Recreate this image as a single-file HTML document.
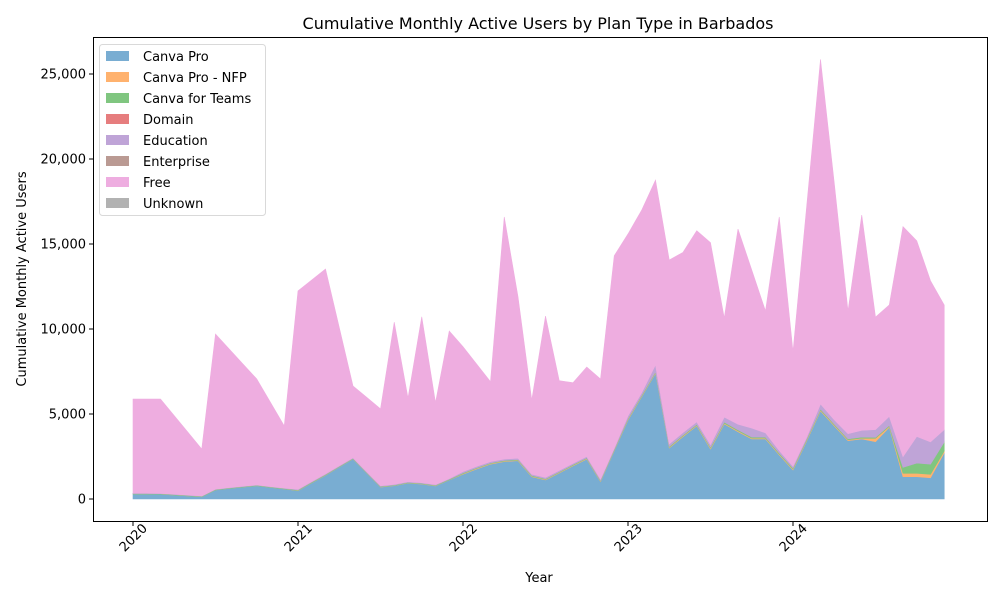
<!DOCTYPE html>
<html><head><meta charset="utf-8"><style>
body{margin:0;background:#fff;font-family:"Liberation Sans","DejaVu Sans",sans-serif}
svg text{font-family:"DejaVu Sans","Liberation Sans",sans-serif;fill:#000}
</style></head><body>
<svg id="chart" width="1000" height="600" viewBox="0 0 1000 600" xmlns="http://www.w3.org/2000/svg">
<rect width="1000" height="600" fill="#fff"/>
<text x="538" y="29" font-size="16" text-anchor="middle">Cumulative Monthly Active Users by Plan Type in Barbados</text>
<g id="areas"></g>
<rect x="93.5" y="37.5" width="894" height="484" fill="none" stroke="#000" stroke-width="1"/>
<g id="yticks"></g>
<g id="xticks"></g>
<text x="539" y="582" font-size="13" text-anchor="middle">Year</text>
<text transform="translate(26,279) rotate(-90)" font-size="13" text-anchor="middle">Cumulative Monthly Active Users</text>
<g id="legend"></g>
</svg>
<script>
const startYear = 2020;
const yearTicks = [2020, 2021, 2022, 2023, 2024];
const yTickValues = [0, 5000, 10000, 15000, 20000, 25000];
const yTickLabels = ["0", "5,000", "10,000", "15,000", "20,000", "25,000"];
const seriesNames = ["Canva Pro","Canva Pro - NFP","Canva for Teams","Domain","Education","Enterprise","Free","Unknown"];
const canvaPro = [290,290,280,230,180,130,530,620,700,780,680,590,490,950,1400,1880,2350,1520,700,780,940,880,770,1120,1460,1770,2050,2200,2250,1310,1120,1530,1950,2350,1020,2840,4650,6020,7400,3000,3670,4300,2940,4410,3960,3530,3530,2590,1710,3430,5180,4300,3430,3530,3370,4220,1310,1310,1250,2720];
const canvaProNfp = [0,0,0,0,0,0,0,0,0,0,0,0,10,10,10,10,10,10,10,10,10,10,10,10,30,30,30,30,30,30,30,30,30,30,30,30,40,40,40,40,40,40,50,50,50,50,50,50,50,50,50,50,50,50,200,50,200,200,200,100];
const canvaTeams = [30,30,30,30,30,30,30,30,30,30,30,30,30,30,30,30,30,30,30,30,30,30,30,30,40,40,40,40,40,40,40,40,40,40,40,40,50,50,50,50,50,50,60,60,60,60,60,60,60,60,60,60,60,60,60,60,350,600,600,530];
const domain = [0,0,0,0,0,0,0,0,0,0,0,0,0,0,0,0,0,0,0,0,0,0,0,0,0,0,0,0,0,0,0,0,0,0,0,0,0,0,0,0,0,0,0,0,0,0,0,0,0,0,0,0,0,0,0,0,0,0,0,0];
const education = [20,20,20,20,20,20,20,20,20,20,20,20,40,40,40,40,40,40,40,40,40,40,40,40,80,80,80,80,80,80,80,80,80,80,80,80,150,150,400,150,150,150,150,300,330,530,250,150,100,100,300,250,300,400,450,530,630,1570,1310,730];
const enterprise = [0,0,0,0,0,0,0,0,0,0,0,0,0,0,0,0,0,0,0,0,0,0,0,0,0,0,0,0,0,0,0,0,0,0,0,0,0,0,0,0,0,0,0,0,0,0,0,0,0,0,0,0,0,0,0,0,0,0,0,0];
const free = [5540,5540,5550,4620,3690,2760,9120,8150,7190,6230,4950,3660,11670,11850,12050,8130,4220,4380,4520,9540,4920,9760,4820,8680,7350,6010,4700,14240,9500,4360,9490,5280,4740,5260,5890,11320,10700,10740,10870,10820,10600,11240,11880,5830,11480,9300,7170,13740,6750,13620,20270,13930,7220,12660,6620,6550,13530,11510,9480,7330];
const unknown = [0,0,0,0,0,0,0,0,0,0,0,0,0,0,0,0,0,0,0,0,0,0,0,0,0,0,0,0,0,0,0,0,0,0,0,0,0,0,0,0,0,0,0,0,0,0,0,0,0,0,0,0,0,0,0,0,0,0,0,0];

const NS = "http://www.w3.org/2000/svg";
const colors = ["#79add2","#ffb26e","#80c680","#e67d7e","#bfa4d7","#ba9a93","#eeade0","#b2b2b2"];
const series = [canvaPro,canvaProNfp,canvaTeams,domain,education,enterprise,free,unknown];
const xOf = m => 133 + m * 165 / 12;
const yOf = v => 499 - v * 0.017;
function mk(tag, attrs, parent){const e=document.createElementNS(NS,tag);for(const k in attrs)e.setAttribute(k,attrs[k]);parent.appendChild(e);return e;}

const areas = document.getElementById("areas");
const n = canvaPro.length;
let base = new Array(n).fill(0);
series.forEach((s, si) => {
  const top = base.map((b, i) => b + s[i]);
  let d = "";
  for (let i = 0; i < n; i++) d += (i ? "L" : "M") + xOf(i).toFixed(2) + "," + yOf(top[i]).toFixed(2);
  for (let i = n - 1; i >= 0; i--) d += "L" + xOf(i).toFixed(2) + "," + yOf(base[i]).toFixed(2);
  d += "Z";
  const nonzero = s.some(v => v > 0);
  const p = mk("path", {d: d, fill: colors[si], stroke: nonzero ? colors[si] : "none", "stroke-width": "0.6"}, areas);
  
  
  base = top;
});

const yt = document.getElementById("yticks");
yTickValues.forEach((v, i) => {
  const y = yOf(v);
  const l = mk("line", {x1: 89, x2: 93.5, y1: y, y2: y, stroke: "#000"}, yt);
  
  
  const t = mk("text", {x: 86, y: y + 4.5, "font-size": "13", "text-anchor": "end"}, yt);
  
  
  t.textContent = yTickLabels[i];
});

const xt = document.getElementById("xticks");
yearTicks.forEach(yr => {
  const x = xOf((yr - startYear) * 12);
  const l = mk("line", {x1: x, x2: x, y1: 521.5, y2: 526, stroke: "#000"}, xt);
  
  
  const t = mk("text", {transform: "translate(" + (x + 15) + ",529) rotate(-45)", "font-size": "13", "text-anchor": "end"}, xt);
  
  
  t.textContent = String(yr);
});

const lg = document.getElementById("legend");
const box = mk("rect", {x: 99.5, y: 44.5, width: 166, height: 171, rx: 3, fill: "#fff", "fill-opacity": "0.8", stroke: "#d9d9d9"}, lg);


seriesNames.forEach((nm, i) => {
  const y = 56 + i * 21;
  const r = mk("rect", {x: 106, y: y - 5, width: 23, height: 10, fill: colors[i]}, lg);
  
  
  const t = mk("text", {x: 143, y: y + 5, "font-size": "13"}, lg);
  
  
  t.textContent = nm;
});
</script>
</body></html>
